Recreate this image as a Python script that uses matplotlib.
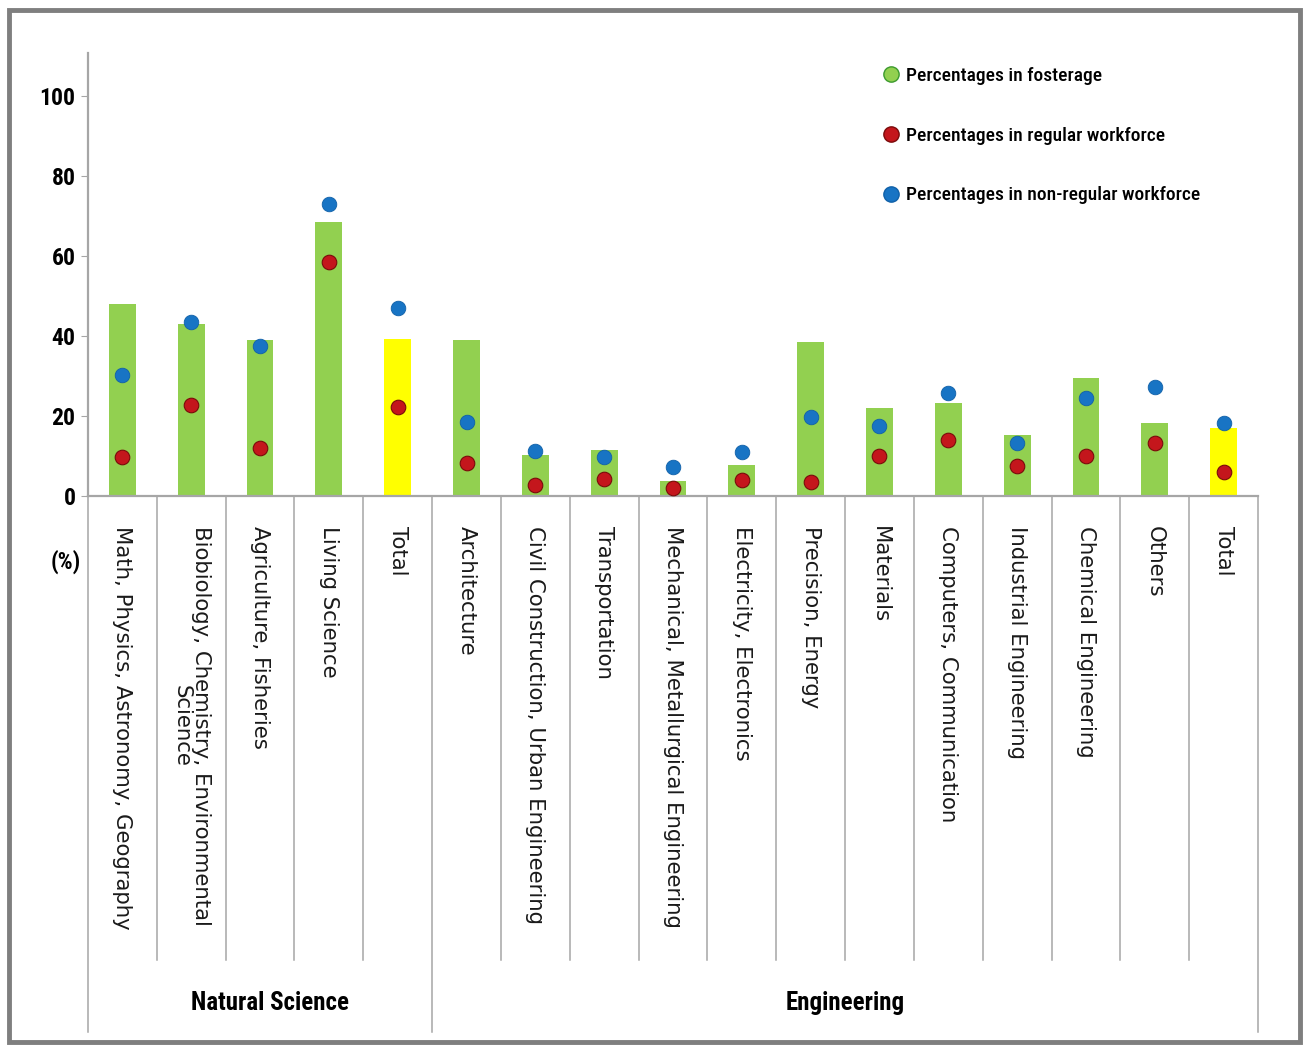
import matplotlib
matplotlib.use("Agg")
import matplotlib.pyplot as plt
from matplotlib.lines import Line2D
from matplotlib.patches import Rectangle
from matplotlib import font_manager as fm

# ---------------- data ----------------
categories = [
    "Math, Physics, Astronomy, Geography",
    "Biobiology, Chemistry, Environmental\nScience",
    "Agriculture, Fisheries",
    "Living Science",
    "Total",
    "Architecture",
    "Civil Construction, Urban Engineering",
    "Transportation",
    "Mechanical, Metallurgical Engineering",
    "Electricity, Electronics",
    "Precision, Energy",
    "Materials",
    "Computers, Communication",
    "Industrial Engineering",
    "Chemical Engineering",
    "Others",
    "Total",
]
groups = ["Natural Science", "Engineering"]
group_sizes = [5, 12]
is_total = [False, False, False, False, True,
            False, False, False, False, False, False, False, False, False, False, False, True]

fosterage = [48, 43, 39, 68.6, 39.2, 39, 10.3, 11.5, 3.8, 7.8, 38.5, 21.9, 23.3, 15.3, 29.4, 18.2, 17.1]
regular = [9.8, 22.8, 12, 58.4, 22.3, 8.2, 2.8, 4.2, 1.9, 4.0, 3.4, 10, 14, 7.5, 10, 13.2, 6.1]
nonregular = [30.3, 43.4, 37.5, 73, 47, 18.6, 11.3, 9.8, 7.3, 11, 19.7, 17.6, 25.7, 13.3, 24.4, 27.3, 18.2]

yticks = [0, 20, 40, 60, 80, 100]
legend_labels = ["Percentages in fosterage", "Percentages in regular workforce",
                 "Percentages in non-regular workforce"]

# ---------------- style ----------------
GREEN = "#92D050"
YELLOW = "#FFFF00"
RED = "#C4161C"
BLUE = "#1874C4"
GRID = "#A6A6A6"

names = {f.name for f in fm.fontManager.ttflist}
NARROW = "DejaVu Sans"
for cand in ["Roboto Condensed", "Sofia Sans Semi Condensed", "Saira SemiCondensed",
             "Liberation Sans Narrow", "Carlito"]:
    if cand in names:
        NARROW = cand
        break
NARROW_FAM = [NARROW, "DejaVu Sans"]

W, H = 1306, 1050
fig = plt.figure(figsize=(W / 100, H / 100), dpi=100)

# outer frame
fig.patches.append(Rectangle((9 / W, 1 - 1042 / H), 1291 / W, 1032 / H,
                             transform=fig.transFigure, fill=False,
                             edgecolor="#7F7F7F", lw=3.5))

x0, x1 = 88, 1258
y0, ytop = 496, 53
ax = fig.add_axes([x0 / W, 1 - y0 / H, (x1 - x0) / W, (y0 - ytop) / H])
ymax = (y0 - ytop) / 4.0
ax.set_xlim(0, len(categories))
ax.set_ylim(0, ymax)

xs = [i + 0.5 for i in range(len(categories))]
colors = [YELLOW if t else GREEN for t in is_total]
ax.bar(xs, fosterage, width=0.39, color=colors, zorder=2)
ax.plot(xs, regular, linestyle="none", marker="o", markersize=10.5,
        markerfacecolor=RED, markeredgecolor="#7a0a0a", markeredgewidth=0.8, zorder=3)
ax.plot(xs, nonregular, linestyle="none", marker="o", markersize=10.5,
        markerfacecolor=BLUE, markeredgecolor="#1060a8", markeredgewidth=0.6, zorder=3)

for s in ["top", "right"]:
    ax.spines[s].set_visible(False)
for s in ["left", "bottom"]:
    ax.spines[s].set_color(GRID)
    ax.spines[s].set_linewidth(1.6)

ax.set_yticks(yticks)
ax.set_yticklabels([str(v) for v in yticks], fontfamily=NARROW_FAM, fontweight="bold",
                   fontsize=17)
ax.tick_params(axis="y", length=5, color=GRID, pad=4)
ax.set_xticks([])

# "(%)"
ax.text(-0.33, -16.5, "(%)", ha="center", va="center", fontfamily=NARROW_FAM,
        fontweight="bold", fontsize=17)

# category dividers and labels below axis
inner_bottom = (y0 - 960) / 4.0
outer_bottom = (y0 - 1032) / 4.0
bounds = [0]
for g in group_sizes:
    bounds.append(bounds[-1] + g)
for i in range(0, len(categories) + 1):
    bottom = outer_bottom if i in bounds else inner_bottom
    ax.plot([i, i], [0, bottom], color=GRID, lw=1.1, clip_on=False, zorder=1)

for x, lab in zip(xs, categories):
    ax.text(x, -(526 - y0) / 4.0, lab, rotation=-90, ha="center", va="top",
            multialignment="center", linespacing=1.0,
            fontfamily="DejaVu Sans", fontsize=15.3, color="#1a1a1a")

group_offsets = [0.15, 0.0]
for gi, g in enumerate(groups):
    cx = (bounds[gi] + bounds[gi + 1]) / 2 + group_offsets[gi]
    ax.text(cx, (y0 - 1003) / 4.0, g, ha="center", va="center",
            fontfamily=NARROW_FAM, fontweight="bold", fontsize=18)

# legend
handles = [
    Line2D([], [], linestyle="none", marker="o", markersize=11, markerfacecolor=GREEN,
           markeredgecolor="#3c9a2e"),
    Line2D([], [], linestyle="none", marker="o", markersize=11, markerfacecolor=RED,
           markeredgecolor="#7a0a0a"),
    Line2D([], [], linestyle="none", marker="o", markersize=11, markerfacecolor=BLUE,
           markeredgecolor="#1060a8"),
]
leg = ax.legend(handles, legend_labels, loc="upper left",
                bbox_to_anchor=(872 / W, 1 - 57 / H), bbox_transform=fig.transFigure,
                frameon=False, prop={"family": NARROW_FAM, "size": 14, "weight": "medium"},
                labelspacing=2.15, handletextpad=0.25, handlelength=1.0,
                borderpad=0)

fig.savefig("out.png", dpi=100, facecolor="white")
